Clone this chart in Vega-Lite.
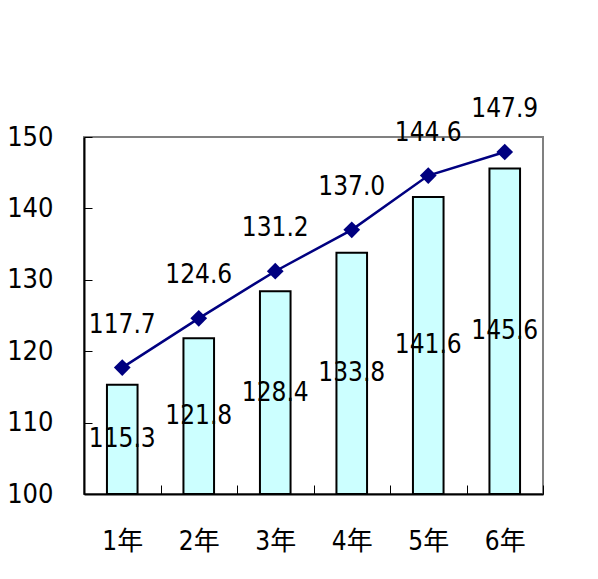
{
  "$schema": "https://vega.github.io/schema/vega-lite/v6.json",
  "width": 459,
  "height": 357,
  "autosize": "none",
  "padding": {"left": 84, "top": 137, "right": 55, "bottom": 85},
  "background": "white",
  "config": {
    "view": {"stroke": "#808080", "strokeWidth": 2},
    "font": "DejaVu Sans Condensed, Noto Sans CJK JP, sans-serif"
  },
  "data": {
    "values": [
      {"grade": "1年", "height": 115.3, "line": 117.7},
      {"grade": "2年", "height": 121.8, "line": 124.6},
      {"grade": "3年", "height": 128.4, "line": 131.2},
      {"grade": "4年", "height": 133.8, "line": 137.0},
      {"grade": "5年", "height": 141.6, "line": 144.6},
      {"grade": "6年", "height": 145.6, "line": 147.9}
    ]
  },
  "encoding": {
    "x": {
      "field": "grade",
      "type": "nominal",
      "sort": null,
      "scale": {"paddingInner": 0, "paddingOuter": 0},
      "axis": {
        "title": null,
        "labelAngle": 0,
        "tickBand": "extent",
        "tickSize": -9,
        "tickColor": "black",
        "tickWidth": 1,
        "domainColor": "black",
        "domainWidth": 2,
        "labelFont": "DejaVu Sans Condensed, Noto Sans CJK JP, sans-serif",
        "labelFontSize": 26,
        "labelColor": "black",
        "labelPadding": 43,
        "grid": false
      }
    }
  },
  "layer": [
    {
      "layer": [
        {
          "mark": {"type": "bar", "fill": "#CCFFFF", "stroke": "black", "strokeWidth": 2, "width": {"band": 0.4}},
          "encoding": {
            "y": {
              "field": "height",
              "type": "quantitative",
              "scale": {"domain": [100, 150], "zero": false, "nice": false},
              "axis": {
                "title": null,
                "values": [100, 110, 120, 130, 140, 150],
                "tickSize": -8,
                "tickColor": "black",
                "tickWidth": 1,
                "domainColor": "black",
                "domainWidth": 2,
                "labelFont": "DejaVu Sans Condensed, sans-serif",
                "labelFontSize": 27,
                "labelColor": "black",
                "labelPadding": 39,
                "grid": false
              }
            },
            "y2": {"datum": 100}
          }
        },
        {
          "mark": {"type": "line", "color": "#000080", "strokeWidth": 2.5},
          "encoding": {"y": {"field": "line", "type": "quantitative"}}
        },
        {
          "mark": {"type": "point", "shape": "diamond", "filled": true, "color": "#000080", "size": 280, "opacity": 1},
          "encoding": {"y": {"field": "line", "type": "quantitative"}}
        },
        {
          "mark": {"type": "text", "dy": -43, "fontSize": 26, "color": "black", "baseline": "middle"},
          "encoding": {
            "y": {"field": "line", "type": "quantitative"},
            "text": {"field": "line", "type": "quantitative", "format": ".1f"}
          }
        }
      ]
    },
    {
      "mark": {"type": "text", "fontSize": 26, "color": "black", "baseline": "middle"},
      "encoding": {
        "y": {"field": "height", "type": "quantitative", "scale": {"domain": [100, 200], "zero": false, "nice": false}, "axis": null},
        "text": {"field": "height", "type": "quantitative", "format": ".1f"}
      }
    }
  ],
  "resolve": {"scale": {"y": "independent"}}
}
